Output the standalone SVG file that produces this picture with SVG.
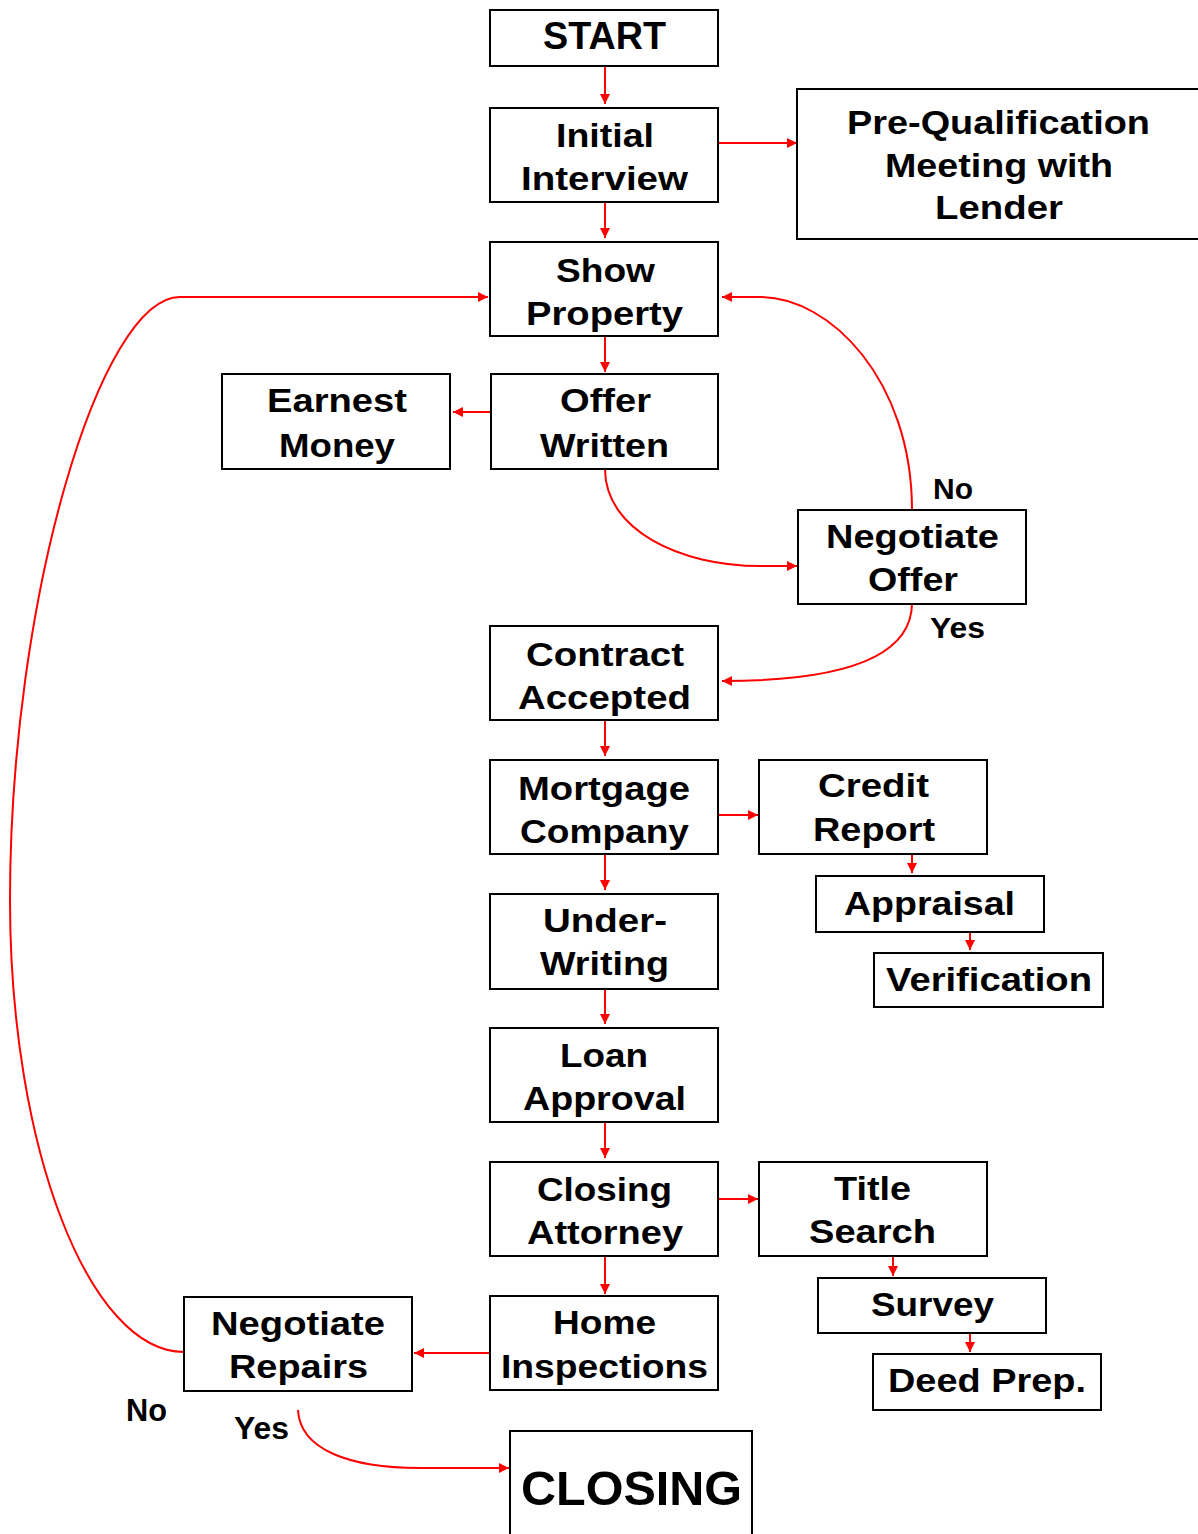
<svg xmlns="http://www.w3.org/2000/svg" width="1198" height="1534" viewBox="0 0 1198 1534">
<style>
  .box { fill: #ffffff; stroke: #000000; stroke-width: 2; }
  .t { font-family: "Liberation Sans", Arial, sans-serif; font-weight: bold; font-size: 34px; fill: #000000; }
  .lbl { font-family: "Liberation Sans", Arial, sans-serif; font-weight: bold; font-size: 30px; fill: #000000; }
  .c { fill: none; stroke: #ff0000; stroke-width: 2; marker-end: url(#ah); }
</style>
<defs>
  <marker id="ah" markerUnits="userSpaceOnUse" markerWidth="10" markerHeight="10" refX="10" refY="5" orient="auto">
    <path d="M0,0 L10,5 L0,10 z" fill="#ff0000"/>
  </marker>
</defs>
<rect width="1198" height="1534" fill="#ffffff"/>

<g id="connectors">
  <path class="c" d="M605,66 L605,104"/>
  <path class="c" d="M605,202 L605,238"/>
  <path class="c" d="M718,143 L797,143"/>
  <path class="c" d="M605,336 L605,372"/>
  <path class="c" d="M491,412 L453,412"/>
  <path class="c" d="M605,469 C605,530 680,566 760,566 L797,566"/>
  <path class="c" d="M912,510 C912,380 830,297 760,297 L722,297"/>
  <path class="c" d="M912,604 C911,665 820,681 722,681"/>
  <path class="c" d="M605,720 L605,756"/>
  <path class="c" d="M718,815 L758,815"/>
  <path class="c" d="M912,854 L912,873"/>
  <path class="c" d="M970,932 L970,950"/>
  <path class="c" d="M605,854 L605,890"/>
  <path class="c" d="M605,989 L605,1024"/>
  <path class="c" d="M605,1122 L605,1158"/>
  <path class="c" d="M718,1199 L758,1199"/>
  <path class="c" d="M893,1256 L893,1276"/>
  <path class="c" d="M970,1333 L970,1352"/>
  <path class="c" d="M605,1256 L605,1294"/>
  <path class="c" d="M490,1353 L414,1353"/>
  <path class="c" d="M184,1352 C90,1352 10,1150 10,900 C10,600 100,297 180,297 L488,297"/>
  <path class="c" d="M298,1410 C300,1450 350,1468 420,1468 L509,1468"/>
</g>

<g id="n-start">
  <rect class="box" x="490" y="10" width="228" height="56"/>
  <text class="t" x="543" y="49" style="font-size:38px" textLength="123" lengthAdjust="spacingAndGlyphs">START</text>
</g>
<g id="n-initial">
  <rect class="box" x="490" y="108" width="228" height="94"/>
  <text class="t" x="556" y="147" textLength="98" lengthAdjust="spacingAndGlyphs">Initial</text>
  <text class="t" x="521" y="190" textLength="167" lengthAdjust="spacingAndGlyphs">Interview</text>
</g>
<g id="n-prequal">
  <rect class="box" x="797" y="89" width="410" height="150"/>
  <text class="t" x="847" y="134" textLength="303" lengthAdjust="spacingAndGlyphs">Pre-Qualification</text>
  <text class="t" x="885" y="177" textLength="228" lengthAdjust="spacingAndGlyphs">Meeting with</text>
  <text class="t" x="935" y="219" textLength="128" lengthAdjust="spacingAndGlyphs">Lender</text>
</g>
<g id="n-show">
  <rect class="box" x="490" y="242" width="228" height="94"/>
  <text class="t" x="556" y="282" textLength="99" lengthAdjust="spacingAndGlyphs">Show</text>
  <text class="t" x="526" y="325" textLength="157" lengthAdjust="spacingAndGlyphs">Property</text>
</g>
<g id="n-earnest">
  <rect class="box" x="222" y="374" width="228" height="95"/>
  <text class="t" x="267" y="412" textLength="140" lengthAdjust="spacingAndGlyphs">Earnest</text>
  <text class="t" x="279" y="457" textLength="116" lengthAdjust="spacingAndGlyphs">Money</text>
</g>
<g id="n-offer">
  <rect class="box" x="491" y="374" width="227" height="95"/>
  <text class="t" x="560" y="412" textLength="91" lengthAdjust="spacingAndGlyphs">Offer</text>
  <text class="t" x="540" y="457" textLength="129" lengthAdjust="spacingAndGlyphs">Written</text>
</g>
<g id="n-negoffer">
  <rect class="box" x="798" y="510" width="228" height="94"/>
  <text class="t" x="826" y="548" textLength="173" lengthAdjust="spacingAndGlyphs">Negotiate</text>
  <text class="t" x="868" y="591" textLength="90" lengthAdjust="spacingAndGlyphs">Offer</text>
</g>
<text class="lbl" x="933" y="499">No</text>
<text class="lbl" x="930" y="638" textLength="55" lengthAdjust="spacingAndGlyphs">Yes</text>
<g id="n-contract">
  <rect class="box" x="490" y="626" width="228" height="94"/>
  <text class="t" x="526" y="666" textLength="158" lengthAdjust="spacingAndGlyphs">Contract</text>
  <text class="t" x="518" y="709" textLength="173" lengthAdjust="spacingAndGlyphs">Accepted</text>
</g>
<g id="n-mortgage">
  <rect class="box" x="490" y="760" width="228" height="94"/>
  <text class="t" x="518" y="800" textLength="172" lengthAdjust="spacingAndGlyphs">Mortgage</text>
  <text class="t" x="520" y="843" textLength="169" lengthAdjust="spacingAndGlyphs">Company</text>
</g>
<g id="n-credit">
  <rect class="box" x="759" y="760" width="228" height="94"/>
  <text class="t" x="818" y="797" textLength="111" lengthAdjust="spacingAndGlyphs">Credit</text>
  <text class="t" x="813" y="841" textLength="122" lengthAdjust="spacingAndGlyphs">Report</text>
</g>
<g id="n-appraisal">
  <rect class="box" x="816" y="876" width="228" height="56"/>
  <text class="t" x="844" y="915" textLength="171" lengthAdjust="spacingAndGlyphs">Appraisal</text>
</g>
<g id="n-verification">
  <rect class="box" x="874" y="953" width="229" height="54"/>
  <text class="t" x="886" y="991" textLength="206" lengthAdjust="spacingAndGlyphs">Verification</text>
</g>
<g id="n-underwriting">
  <rect class="box" x="490" y="894" width="228" height="95"/>
  <text class="t" x="543" y="932" textLength="124" lengthAdjust="spacingAndGlyphs">Under-</text>
  <text class="t" x="540" y="975" textLength="129" lengthAdjust="spacingAndGlyphs">Writing</text>
</g>
<g id="n-loan">
  <rect class="box" x="490" y="1028" width="228" height="94"/>
  <text class="t" x="560" y="1067" textLength="88" lengthAdjust="spacingAndGlyphs">Loan</text>
  <text class="t" x="523" y="1110" textLength="163" lengthAdjust="spacingAndGlyphs">Approval</text>
</g>
<g id="n-closingatty">
  <rect class="box" x="490" y="1162" width="228" height="94"/>
  <text class="t" x="537" y="1201" textLength="135" lengthAdjust="spacingAndGlyphs">Closing</text>
  <text class="t" x="527" y="1244" textLength="156" lengthAdjust="spacingAndGlyphs">Attorney</text>
</g>
<g id="n-title">
  <rect class="box" x="759" y="1162" width="228" height="94"/>
  <text class="t" x="834" y="1200" textLength="77" lengthAdjust="spacingAndGlyphs">Title</text>
  <text class="t" x="809" y="1243" textLength="127" lengthAdjust="spacingAndGlyphs">Search</text>
</g>
<g id="n-survey">
  <rect class="box" x="818" y="1278" width="228" height="55"/>
  <text class="t" x="871" y="1316" textLength="123" lengthAdjust="spacingAndGlyphs">Survey</text>
</g>
<g id="n-deed">
  <rect class="box" x="873" y="1354" width="228" height="56"/>
  <text class="t" x="888" y="1392" textLength="198" lengthAdjust="spacingAndGlyphs">Deed Prep.</text>
</g>
<g id="n-home">
  <rect class="box" x="490" y="1296" width="228" height="94"/>
  <text class="t" x="553" y="1334" textLength="103" lengthAdjust="spacingAndGlyphs">Home</text>
  <text class="t" x="501" y="1378" textLength="207" lengthAdjust="spacingAndGlyphs">Inspections</text>
</g>
<g id="n-negrepairs">
  <rect class="box" x="184" y="1297" width="228" height="94"/>
  <text class="t" x="211" y="1335" textLength="174" lengthAdjust="spacingAndGlyphs">Negotiate</text>
  <text class="t" x="229" y="1378" textLength="139" lengthAdjust="spacingAndGlyphs">Repairs</text>
</g>
<text class="lbl" x="126" y="1421" style="font-size:32px" textLength="41" lengthAdjust="spacingAndGlyphs">No</text>
<text class="lbl" x="234" y="1439" style="font-size:31px" textLength="55" lengthAdjust="spacingAndGlyphs">Yes</text>
<g id="n-closing">
  <rect class="box" x="510" y="1431" width="242" height="120"/>
  <text class="t" x="521" y="1505" style="font-size:49px" textLength="221" lengthAdjust="spacingAndGlyphs">CLOSING</text>
</g>
</svg>
